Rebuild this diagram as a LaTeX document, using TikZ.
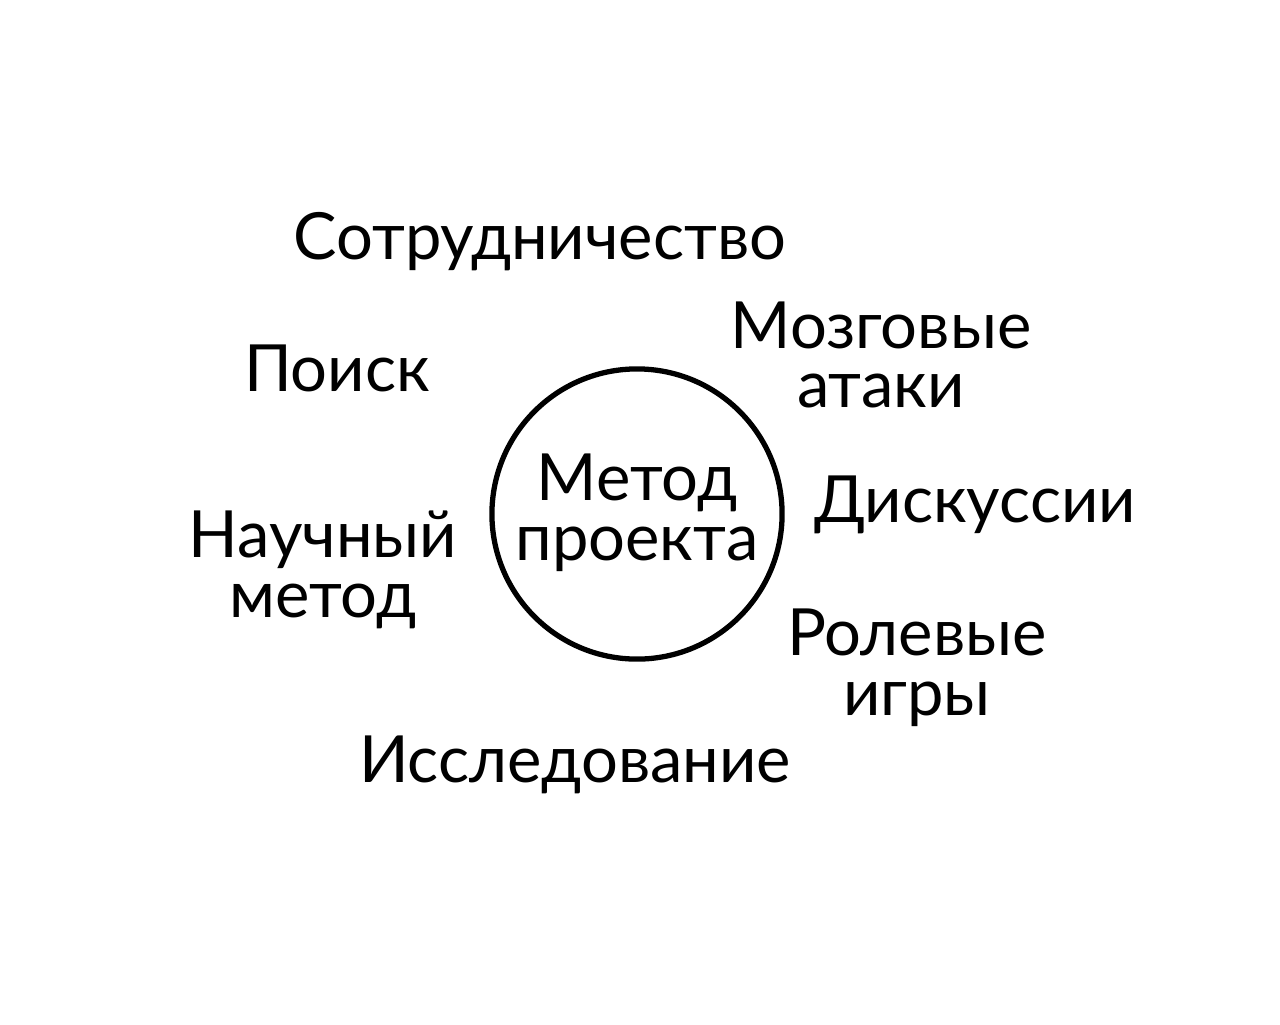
\documentclass[tikz,border=0pt]{standalone}
\usepackage{fontspec}
\setmainfont{Lato}
\usepackage{tikz}

\begin{document}
\begin{tikzpicture}[x=0.01cm,y=-0.01cm]
\tikzstyle{every node}=[align=center,inner sep=0pt,font=\fontsize{18.5}{17}\selectfont]
\useasboundingbox (0,0) rectangle (1280,1024);
\node[circle,draw,line width=1.5pt,minimum size=2.9cm] (m) at (637,514) {};
\node (mt) at (637,513) {Метод\\проекта};
\node (s) at (540,242) {Сотрудничество};
\node (p) at (337,368) {Поиск};
\node (z) at (881,355) {Мозговые\\атаки};
\node (d) at (975,505) {Дискуссии};
\node (n) at (323,570) {Научный\\метод};
\node (r) at (917,668) {Ролевые\\игры};
\node (i) at (575,765) {Исследование};
\end{tikzpicture}
\end{document}
